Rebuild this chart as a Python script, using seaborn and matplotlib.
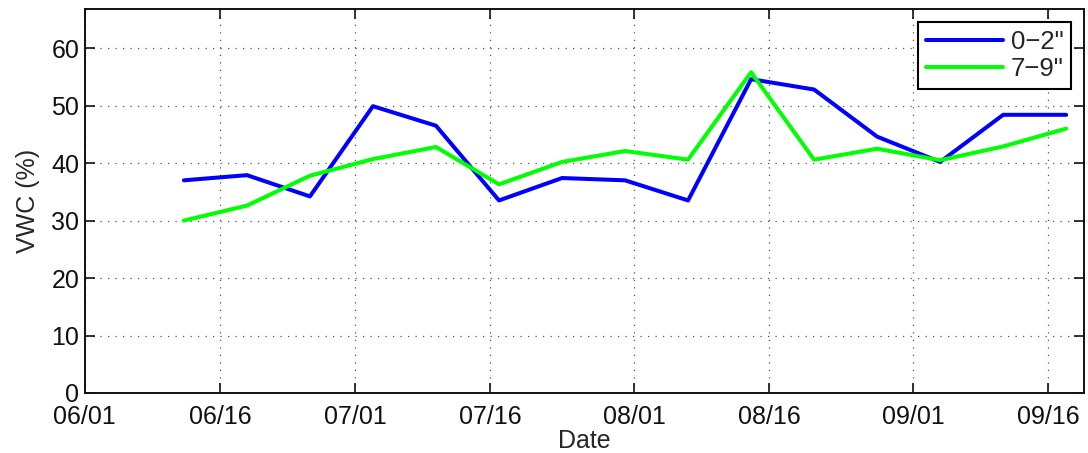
import pandas as pd
import matplotlib.pyplot as plt
import matplotlib.dates as mdates
import seaborn as sns

dates = pd.date_range('2013-06-12', periods=15, freq='7D')
vwc_0_2 = [37.0, 37.9, 34.2, 49.9, 46.5, 33.5, 37.4, 37.0, 33.5, 54.6, 52.8, 44.6, 40.2, 48.4, 48.4]
vwc_7_9 = [30.0, 32.6, 37.8, 40.7, 42.8, 36.3, 40.2, 42.1, 40.6, 55.8, 40.6, 42.5, 40.5, 42.9, 46.0]
tick_dates = pd.to_datetime(['2013-06-01', '2013-06-16', '2013-07-01', '2013-07-16',
                             '2013-08-01', '2013-08-16', '2013-09-01', '2013-09-16'])

data = pd.DataFrame({'Date': list(dates) * 2,
                     'VWC': vwc_0_2 + vwc_7_9,
                     'Depth': ['0\u22122"'] * 15 + ['7\u22129"'] * 15})

sns.set_style('ticks')
plt.rcParams['font.family'] = ['Liberation Sans', 'DejaVu Sans']

fig = plt.figure(figsize=(10.88, 4.53), dpi=100)
ax = fig.add_axes([0.078, 0.1325, 0.9185, 0.8475])
sns.lineplot(data=data, x='Date', y='VWC', hue='Depth',
             palette=['#0000ff', '#00ff00'], linewidth=2.9, ax=ax)

ax.set_xlim(pd.Timestamp('2013-06-01'), pd.Timestamp('2013-09-20'))
ax.set_ylim(0, 66.8)
ax.set_xticks(tick_dates)
ax.xaxis.set_major_formatter(mdates.DateFormatter('%m/%d'))
ax.set_yticks(range(0, 61, 10))
ax.grid(True, linestyle=(0, (1, 5)), color='#555555', linewidth=0.9)
ax.tick_params(direction='in', length=7, width=1.2, top=True, right=True,
               labelsize=18, colors='#111111', pad=4)
ax.tick_params(axis='x', pad=9)
for s in ax.spines.values():
    s.set_linewidth(1.4)
    s.set_color('#111111')
ax.set_xlabel('Date', fontsize=18, labelpad=0)
ax.set_ylabel('VWC (%)', fontsize=18, labelpad=8)

leg = ax.legend(loc='upper right', fontsize=18.5, frameon=True, fancybox=False,
                handlelength=3.0, borderpad=0.3, labelspacing=0.15,
                borderaxespad=0.5, handletextpad=0.3)
leg.get_frame().set_edgecolor('black')
leg.get_frame().set_linewidth(1.5)
leg.get_frame().set_alpha(1)

fig.savefig('out.png', dpi=100)
